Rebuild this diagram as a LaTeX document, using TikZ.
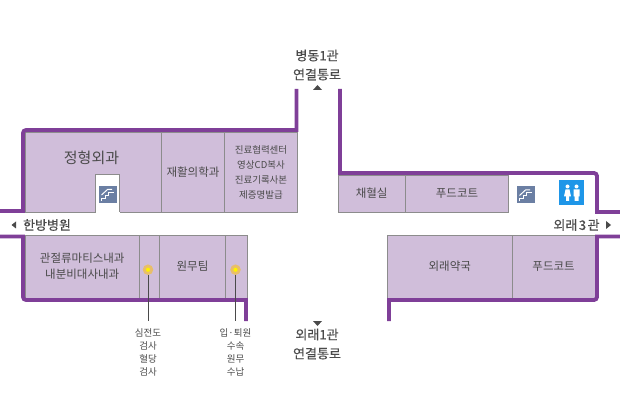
\documentclass[tikz,border=0pt]{standalone}
\usepackage{fontspec}
\setmainfont{Noto Sans CJK KR}
\newfontfamily\heavykr[FakeBold=0.35]{Noto Sans CJK KR}
\usetikzlibrary{positioning}
\definecolor{wallpurple}{HTML}{7F3F98}
\definecolor{roomfill}{HTML}{D0BEDA}
\definecolor{roomline}{HTML}{8C8C8C}
\definecolor{stairblue}{HTML}{6B7FA3}
\definecolor{wcblue}{HTML}{1E96E8}
\definecolor{labelgray}{HTML}{4A4A4A}
\definecolor{dothalo}{HTML}{E8BE6A}
\begin{document}
\begin{tikzpicture}[
    x=1pt, y=-1pt,
    room/.style={rectangle, draw=roomline, fill=roomfill, line width=0.8pt, inner sep=0pt, outer sep=0pt, anchor=north west, align=center, text=labelgray, font=\fontsize{11.5}{16}\selectfont},
    smallroom/.style={room, font=\fontsize{9.5}{15}\selectfont},
    wall/.style={draw=wallpurple, line width=3.8pt},
    title/.style={text=labelgray, align=center, inner sep=0pt, font=\heavykr\fontsize{13}{19}\selectfont},
    note/.style={text=labelgray, align=center, inner sep=0pt, font=\fontsize{9.5}{13}\selectfont},
    dot/.style={circle, fill=yellow, draw=dothalo, line width=2.8pt, minimum size=7.5pt, inner sep=0pt},
    leader/.style={draw=labelgray, line width=0.7pt},
    tip/.style={fill=labelgray},
    stairs/.pic={
        \fill[stairblue] (-9,-8.5) rectangle (9,8.5);
        \draw[white, line width=1pt] (-6.5,6.5) -- (-6.5,4) -- (-3,4) -- (-3,1) -- (0.5,1) -- (0.5,-2) -- (6,-2);
        \draw[white, line width=1pt] (-6.5,0.5) -- (-0.5,-5) -- (4,-5);
    }
]
\useasboundingbox (0,0) rectangle (620,411);
% Upper left rooms
\node[room, minimum width=136.5pt, minimum height=80pt] (ortho) at (25,132) {};
\node[room, minimum width=63pt, minimum height=80pt] (rehab) at (161.5,132) {재활의학과};
\node[smallroom, minimum width=73pt, minimum height=80pt] (records) at (224.5,132) {진료협력센터\\영상CD복사\\진료기록사본\\제증명발급};
\node[text=labelgray, inner sep=0pt, font=\fontsize{15}{16}\selectfont] (orthotext) at (91.5,158) {정형외과};
% Stair notch
\fill[white] (95.5,174) rectangle (119.5,213);
\draw[draw=roomline, line width=0.8pt] (95.5,212) -- (95.5,174) -- (119.5,174) -- (119.5,212);
\pic at (108,194.5) {stairs};
% Upper right rooms
\node[room, minimum width=67.3pt, minimum height=37pt] (blood) at (338,175) {채혈실};
\node[room, minimum width=103.4pt, minimum height=37pt] (food1) at (405.3,175) {푸드코트};
\pic at (526,195) {stairs};
% Toilet
\node[rectangle, fill=wcblue, minimum size=25pt, inner sep=0pt] (wc) at (571.5,192.5) {};
\fill[white] (567.5,186.5) circle (2pt) (576.5,186.5) circle (2pt);
\fill[white] (565.5,189.5) -- (569.5,189.5) -- (571,196.5) -- (569,196.5) -- (569,201) -- (566,201) -- (566,196.5) -- (564,196.5) -- cycle;
\fill[white] (573.5,189.5) rectangle (579.5,196.5) (574.5,196) rectangle (578.5,201);
% Lower left rooms
\node[room, minimum width=114.5pt, minimum height=63pt] (rheuma) at (25,235) {관절류마티스내과\\내분비대사내과};
\node[room, minimum width=20pt, minimum height=63pt] (ecg) at (139.5,235) {};
\node[room, minimum width=66pt, minimum height=63pt] (admin) at (159.5,235) {원무팀};
\node[room, minimum width=22pt, minimum height=63pt] (admit) at (225.5,235) {};
% Lower right rooms
\node[room, minimum width=125pt, minimum height=63pt] (pharmacy) at (387.3,235) {외래약국};
\node[room, minimum width=82.7pt, minimum height=63pt] (food2) at (512.3,235) {푸드코트};
% Walls
\draw[wall] (0,211) -- (23,211) [rounded corners=3pt] -- (23,130) [sharp corners] -- (296.5,130) -- (296.5,89);
\draw[wall] (340,89) -- (340,173) [rounded corners=3pt] -- (597,173) [sharp corners] -- (597,212) -- (620,212);
\draw[wall] (0,236.5) -- (23,236.5) [rounded corners=3pt] -- (23,300) [sharp corners] -- (246,300) -- (246,321);
\draw[wall] (620,236.5) -- (597,236.5) [rounded corners=3pt] -- (597,300) [sharp corners] -- (389,300) -- (389,321);
% Dots and leaders
\coordinate (ecgend) at (148,321);
\coordinate (admitend) at (235.5,321);
\node[dot] (ecgdot) at (148,269.7) {};
\node[dot] (admitdot) at (235.5,269.7) {};
\draw[leader] (ecgdot) -- (ecgend);
\draw[leader] (admitdot) -- (admitend);
\node[note, below=7.5pt of ecgend] (ecgnote) {심전도\\검사\\혈당\\검사};
\node[note, below=7.5pt of admitend] (admitnote) {입·퇴원\\수속\\원무\\수납};
% Titles
\node[title] (north) at (317,65) {병동1관\\연결통로};
\node[title] (south) at (317,344) {외래1관\\연결통로};
\node[title] (west) at (47,225) {한방병원};
\node[title] (east) at (576.5,225) {외래\kern1.5pt 3\kern1.5pt 관};
% Direction marks
\fill[tip] (313,90) -- (317.5,85) -- (322,90) -- cycle;
\fill[tip] (313,321) -- (322,321) -- (317.5,326) -- cycle;
\fill[tip] (16,221.5) -- (16,228.5) -- (11.5,225) -- cycle;
\fill[tip] (606,221) -- (606,229) -- (611,225) -- cycle;
\end{tikzpicture}
\end{document}
